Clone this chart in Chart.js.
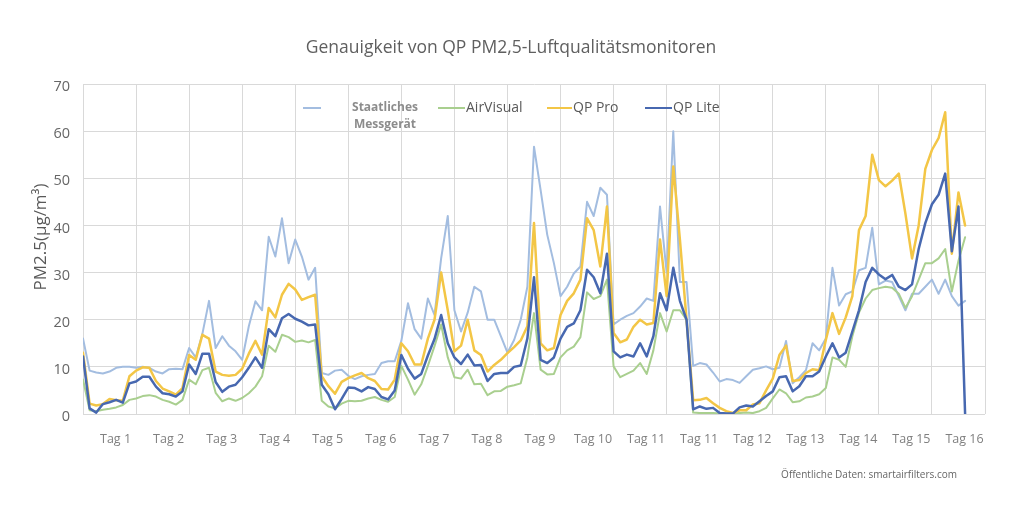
<!DOCTYPE html>
<html>
<head>
<meta charset="utf-8">
<script src="https://cdn.jsdelivr.net/npm/chart.js@4.4.1/dist/chart.umd.min.js"></script>
<style>
html,body{margin:0;padding:0;background:#ffffff;}
#wrap{width:1024px;height:508px;position:relative;}
</style>
</head>
<body>
<div id="wrap"><canvas id="c" width="1024" height="508"></canvas></div>
<script>
// ---- text ----
const TITLE = "Genauigkeit von QP PM2,5-Luftqualitätsmonitoren";
const Y_TITLE = "PM2.5(μg/m³)";
const SOURCE = "Öffentliche Daten: smartairfilters.com";
const DAY_LABELS = ["Tag 1","Tag 2","Tag 3","Tag 4","Tag 5","Tag 6","Tag 7","Tag 8","Tag 9","Tag 10","Tag 11","Tag 11","Tag 12","Tag 13","Tag 14","Tag 15","Tag 16"];
const SERIES_NAMES = [["Staatliches","Messgerät"], "AirVisual", "QP Pro", "QP Lite"];
const Y_TICKS = [0, 10, 20, 30, 40, 50, 60, 70];
const POINTS_PER_DAY = 8; // one reading every 3 hours

// ---- values (µg/m³), 8 readings per day ----
const staatlichesMessgeraet = [
  16, 9.2, 8.8, 8.6, 9.0, 9.8, 10, 10,
  9.8, 10, 9.8, 9.0, 8.6, 9.5, 9.6, 9.5,
  14, 12, 17, 24, 14, 16.5, 14.5, 13.3,
  11.5, 18.6, 23.9, 22, 37.6, 33.4, 41.5, 32,
  37, 33.4, 28.5, 31, 8.7, 8.3, 9.2, 9.4,
  8.1, 7.4, 8.0, 8.3, 8.5, 10.8, 11.2, 11.2,
  15.5, 23.5, 18, 16, 24.5, 21, 33, 42,
  22, 17.5, 21.5, 27, 26, 20, 20, 16.5,
  13, 15.7, 20, 27, 56.7, 47.5, 38, 32,
  25, 27, 29.8, 31.3, 45, 42, 48, 46.5,
  19, 20, 20.8, 21.4, 22.8, 24.5, 24, 44,
  30, 60, 28, 28, 10.2, 10.8, 10.5, 8.8,
  6.9, 7.4, 7.2, 6.6, 8, 9.4, 9.7, 10.1,
  9.5, 9.8, 15.5, 6.5, 7.8, 9.3, 15, 13.5,
  16, 31, 23, 25.4, 26, 30.5, 31, 39.5,
  27.5, 28.3, 28, 25, 22, 25.5, 25.5, 27,
  28.5, 25.5, 28.5, 25, 23, 24
];
const airVisual = [
  7.3, 0.8, 0.6, 0.9, 1.1, 1.4, 1.9, 3.0,
  3.3, 3.8, 4.0, 3.7, 3.0, 2.6, 2.0, 3.0,
  7.3, 6.3, 9.3, 9.8, 4.5, 2.7, 3.3, 2.8,
  3.4, 4.4, 5.8, 8.0, 14.5, 13.2, 16.8, 16.3,
  15.3, 15.6, 15.2, 15.7, 2.8, 1.6, 1.2, 2.2,
  2.8, 2.7, 2.8, 3.3, 3.6, 3.0, 2.6, 3.6,
  10.2, 7.3, 4.1, 6.3, 10.2, 14.4, 19, 12,
  7.8, 7.5, 9.4, 6.3, 6.4, 4, 4.8, 4.9,
  5.8, 6.1, 6.5, 12, 21.4, 9.4, 8.4, 8.5,
  12, 13.5, 14.3, 16.3, 25.8, 24.4, 25, 28.5,
  10.1, 7.8, 8.5, 9.2, 10.8, 8.5, 13.5, 21.4,
  17.5, 22, 22, 20, 0.3, 0.2, 0.2, 0.2,
  0.1, 0.1, 0.1, 0.2, 0.3, 0.2, 0.6, 1.3,
  3.3, 5.2, 4.4, 2.5, 2.7, 3.5, 3.7, 4.2,
  5.5, 12, 11.5, 10, 16.5, 21.5, 24.5, 26.3,
  26.7, 27, 26.8, 25.5, 22.5, 25, 28.5, 32,
  32, 33, 35, 26, 32.5, 37.5
];
const qpPro = [
  13, 2.2, 1.8, 2.1, 3.2, 2.9, 2.8, 8,
  9.2, 9.9, 9.8, 7.0, 5.4, 4.8, 4.1, 5.5,
  12.5, 11.5, 16.8, 16, 9.0, 8.3, 8.1, 8.3,
  9.6, 12.8, 15.5, 12.6, 22.5, 20.5, 25.3, 27.6,
  26.4, 24.2, 24.8, 25.3, 8.0, 5.9, 4.3, 6.8,
  7.6, 8.2, 8.7, 7.6, 7.0, 5.3, 5.2, 7.3,
  15, 13.3, 10.5, 10.5, 16, 20, 30, 22,
  13.3, 14.5, 20, 13.5, 12.5, 9, 10.4, 11.5,
  12.9, 14.2, 15.6, 18.6, 40.5, 15, 13.5, 14,
  21, 24, 25.6, 28.5, 41.5, 39, 31.3, 44,
  17.2, 15.2, 15.8, 18.5, 20, 19, 19.3, 37,
  25, 52.5, 37, 20, 2.9, 3.0, 3.4, 2.3,
  1.3, 0.6, 0.2, 0.8, 0.8, 2, 2.3, 5,
  7.5, 12.5, 14.5, 7, 7.2, 8.7, 9.5, 9.3,
  15.7, 21.4, 17, 20.5, 25, 39, 42, 55,
  49.6, 48.3, 49.5, 51, 42.5, 33, 40, 52,
  56, 58.5, 64, 34, 47, 40
];
const qpLite = [
  12.2, 1.2, 0.3, 2.1, 2.5, 3.0, 2.4, 6.5,
  6.9, 7.9, 7.9, 5.8, 4.4, 4.2, 3.7, 4.8,
  10.5, 8.5, 12.8, 12.8, 6.8, 4.7, 5.8, 6.2,
  7.8, 9.8, 12, 9.8, 18, 16.5, 20.3, 21.2,
  20.2, 19.6, 18.8, 19, 6.2, 4.2, 1.0, 3.2,
  5.6, 5.5, 4.8, 5.7, 5.3, 3.6, 3.1, 5.0,
  12.5, 9.6, 7.5, 8.5, 12.4, 15.9, 21, 15,
  12, 10.6, 12.6, 10.3, 10.4, 7, 8.5, 8.7,
  8.7, 10, 10.3, 16, 29, 11.5, 10.8, 12,
  16, 18.5, 19.2, 22, 30.6, 29, 25.6, 34,
  13.3, 12, 12.6, 12.2, 15, 12.2, 16.5, 25.6,
  22, 31, 24, 20, 1.0, 1.6, 1.1, 1.3,
  0.2, 0.1, 0.1, 1.4, 1.8, 1.6, 2.7, 3.8,
  4.8, 7.8, 8, 4.8, 5.9, 8, 8, 9,
  12.2, 15, 12, 13, 17.5, 22, 28, 31,
  29.6, 28.6, 29.5, 27, 26.3, 27.5, 35, 40.5,
  44.5, 46.5, 51, 34.5, 44, 0
];

// ---- styles ----
const COLORS = ["#a3bde0", "#a9cf8f", "#f3c646", "#4768b0"];
const WIDTHS = [2, 2, 2.5, 2.5];
const SERIES = [staatlichesMessgeraet, airVisual, qpPro, qpLite];

const toPoints = arr => arr.map((v, i) => ({ x: i, y: v }));

const datasets = SERIES.map((arr, k) => ({
  label: Array.isArray(SERIES_NAMES[k]) ? SERIES_NAMES[k].join(" ") : SERIES_NAMES[k],
  data: toPoints(arr),
  borderColor: COLORS[k],
  backgroundColor: COLORS[k],
  borderWidth: WIDTHS[k],
  pointRadius: 0,
  fill: false,
  tension: 0,
  borderJoinStyle: "round",
  borderCapStyle: "round",
  order: SERIES.length - k,
  xAxisID: "x",
  yAxisID: "y"
}));

const FONT = '"Open Sans", "DejaVu Sans", sans-serif';

const textLayer = {
  id: "textLayer",
  afterDraw(chart) {
    const ctx = chart.ctx;
    ctx.save();
    // title
    ctx.fillStyle = "#5f5f5f";
    ctx.font = "17.5px " + FONT;
    ctx.textAlign = "center";
    ctx.textBaseline = "middle";
    ctx.fillText(TITLE, 511, 48);
    // y-axis title
    ctx.save();
    ctx.translate(41, 237);
    ctx.rotate(-Math.PI / 2);
    ctx.fillStyle = "#595959";
    ctx.font = "17px " + FONT;
    ctx.fillText(Y_TITLE, 0, 0);
    ctx.restore();
    // source note
    ctx.font = "10px " + FONT;
    ctx.textAlign = "right";
    ctx.fillStyle = "#666666";
    ctx.fillText(SOURCE, 957, 475);
    // legend
    const items = [
      { x0: 303, x1: 321 },
      { x0: 438, x1: 465 },
      { x0: 547, x1: 572 },
      { x0: 645, x1: 672 }
    ];
    const ly = 108;
    items.forEach((it, k) => {
      ctx.strokeStyle = COLORS[k];
      ctx.lineWidth = 2;
      ctx.beginPath();
      ctx.moveTo(it.x0, ly);
      ctx.lineTo(it.x1, ly);
      ctx.stroke();
      const name = SERIES_NAMES[k];
      if (Array.isArray(name)) {
        ctx.font = "bold 12px " + FONT;
        ctx.fillStyle = "#8c8c8c";
        ctx.textAlign = "center";
        name.forEach((ln, r) => ctx.fillText(ln, 385, ly + r * 17));
      } else {
        ctx.font = "14px " + FONT;
        ctx.fillStyle = "#595959";
        ctx.textAlign = "left";
        ctx.fillText(name, it.x1 + 1, ly);
      }
    });
    ctx.restore();
  }
};

new Chart(document.getElementById("c"), {
  type: "line",
  data: { datasets },
  options: {
    responsive: false,
    devicePixelRatio: 1,
    animation: false,
    layout: { padding: { top: 84, right: 39, bottom: 54, left: 0 } },
    plugins: { legend: { display: false }, title: { display: false }, tooltip: { enabled: false } },
    scales: {
      x: {
        type: "linear",
        display: false,
        min: 0,
        max: DAY_LABELS.length * POINTS_PER_DAY
      },
      xc: {
        type: "category",
        labels: DAY_LABELS,
        position: "bottom",
        offset: true,
        grid: { offset: true, color: "#d9d9d9", lineWidth: 1, drawTicks: false },
        border: { display: false },
        ticks: {
          color: "#808080",
          font: { family: FONT, size: 12.5 },
          padding: 18,
          labelOffset: 6,
          autoSkip: false,
          maxRotation: 0
        },
        afterFit(s) { s.height = 40; }
      },
      y: {
        min: 0,
        max: 70,
        afterBuildTicks(s) { s.ticks = Y_TICKS.map(v => ({ value: v })); },
        ticks: { color: "#666666", font: { family: FONT, size: 14.5 }, padding: 13, labelOffset: 3 },
        grid: { color: "#d9d9d9", lineWidth: 1, drawTicks: false },
        border: { color: "#d9d9d9" },
        afterFit(s) { s.width = 83; }
      }
    }
  },
  plugins: [textLayer]
});
</script>
</body>
</html>
